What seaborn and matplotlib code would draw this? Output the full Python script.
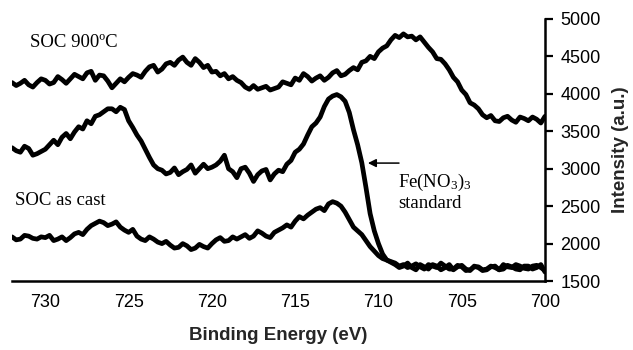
import numpy as np
import pandas as pd
import seaborn as sns
import matplotlib
matplotlib.use("Agg")
import matplotlib.pyplot as plt

sns.set_style("white")
plt.rcParams["font.family"] = ["Liberation Sans", "DejaVu Sans"]
plt.rcParams["mathtext.fontset"] = "custom"
plt.rcParams["mathtext.rm"] = "Liberation Serif"
plt.rcParams["mathtext.it"] = "Liberation Serif:italic"

# binding energy grid (eV), 732 -> 700 in 0.25 eV steps
energy = np.linspace(732, 700, 129)

soc_900 = [4150, 4110, 4140, 4180, 4120, 4090, 4150, 4200, 4180, 4130,
           4150, 4230, 4190, 4140, 4200, 4260, 4230, 4200, 4280, 4300,
           4180, 4250, 4240, 4170, 4080, 4140, 4200, 4160, 4220, 4270,
           4250, 4220, 4300, 4360, 4380, 4290, 4330, 4400, 4420, 4380,
           4450, 4490, 4420, 4380, 4470, 4420, 4350, 4380, 4290, 4300,
           4240, 4270, 4200, 4230, 4180, 4150, 4090, 4060, 4110, 4060,
           4080, 4100, 4050, 4070, 4090, 4160, 4140, 4120, 4210, 4180,
           4270, 4230, 4170, 4210, 4240, 4180, 4220, 4280, 4310, 4240,
           4260, 4310, 4350, 4320, 4420, 4440, 4500, 4470, 4560, 4610,
           4640, 4720, 4780, 4750, 4800, 4760, 4770, 4720, 4760, 4690,
           4620, 4560, 4470, 4460, 4400, 4320, 4220, 4160, 4050, 3990,
           3880, 3850, 3800, 3720, 3680, 3710, 3640, 3630, 3680, 3700,
           3650, 3620, 3690, 3670, 3640, 3690, 3660, 3610, 3700]

fe_nitrate = [3280, 3240, 3220, 3300, 3270, 3180, 3200, 3230, 3260, 3320,
              3380, 3320, 3420, 3470, 3400, 3490, 3560, 3530, 3640, 3600,
              3700, 3720, 3760, 3800, 3800, 3760, 3820, 3790, 3640, 3550,
              3450, 3370, 3260, 3150, 3050, 3000, 2980, 2930, 2950, 3010,
              2920, 2960, 2990, 3050, 2940, 3000, 3060, 3000, 3020, 3050,
              3100, 3180, 3000, 2960, 2880, 3000, 3020, 2940, 2830, 2920,
              2970, 2990, 2850, 2930, 2980, 2960, 3060, 3110, 3220, 3260,
              3330, 3450, 3560, 3610, 3690, 3830, 3930, 3970, 3990, 3960,
              3900, 3750, 3520, 3320, 3080, 2750, 2400, 2170, 2000, 1860,
              1780, 1750, 1720, 1680, 1700, 1740, 1680, 1650, 1720, 1690,
              1660, 1720, 1700, 1650, 1680, 1720, 1650, 1690, 1710, 1660,
              1640, 1700, 1680, 1640, 1650, 1690, 1700, 1650, 1660, 1710,
              1690, 1660, 1650, 1700, 1700, 1660, 1680, 1720, 1620]

soc_cast = [2090, 2050, 2060, 2110, 2100, 2070, 2060, 2090, 2080, 2110,
            2040, 2060, 2090, 2040, 2080, 2130, 2150, 2120, 2190, 2240,
            2270, 2300, 2280, 2240, 2260, 2290, 2220, 2180, 2150, 2190,
            2100, 2060, 2040, 2090, 2060, 2020, 2000, 2030, 1980, 1940,
            1950, 2000, 1970, 1920, 1940, 1990, 1960, 1940, 2000, 2050,
            2080, 2030, 2040, 2090, 2060, 2090, 2120, 2070, 2100, 2170,
            2140, 2100, 2080, 2150, 2180, 2210, 2250, 2220, 2300, 2360,
            2330, 2380, 2420, 2460, 2480, 2440, 2530, 2560, 2540, 2500,
            2420, 2320, 2220, 2170, 2120, 2040, 1960, 1900, 1840, 1800,
            1780, 1760, 1740, 1700, 1720, 1680, 1700, 1730, 1690, 1660,
            1720, 1700, 1680, 1740, 1700, 1660, 1660, 1710, 1690, 1640,
            1650, 1690, 1690, 1650, 1660, 1700, 1680, 1650, 1720, 1690,
            1680, 1720, 1700, 1670, 1660, 1700, 1710, 1680, 1640]

y_ticks = [1500, 2000, 2500, 3000, 3500, 4000, 4500, 5000]
x_ticks = [730, 725, 720, 715, 710, 705, 700]

fig = plt.figure(figsize=(6.33, 3.5), dpi=100)
ax = fig.add_axes([0.019, 0.197, 0.842, 0.749])

for series in (soc_900, fe_nitrate, soc_cast):
    df = pd.DataFrame({"energy": energy, "intensity": series})
    sns.lineplot(data=df, x="energy", y="intensity", color="black",
                 linewidth=3.4, sort=False, estimator=None, ax=ax)

ax.set_xlim(732, 700)
ax.set_ylim(1500, 5000)
ax.set_xticks(x_ticks)
ax.set_yticks(y_ticks)
ax.yaxis.tick_right()
ax.yaxis.set_label_position("right")

for side in ("left", "top"):
    ax.spines[side].set_visible(False)
for side in ("right", "bottom"):
    ax.spines[side].set_linewidth(1.8)
    ax.spines[side].set_color("black")

ax.tick_params(axis="both", direction="out", length=6, width=1.6,
               labelsize=13, colors="black")
ax.tick_params(axis="x", pad=3)
ax.tick_params(axis="y", pad=5)

ax.set_xlabel("Binding Energy (eV)", fontsize=13.5, fontweight="bold", labelpad=12)
ax.set_ylabel("Intensity (a.u.)", fontsize=13.5, fontweight="bold", labelpad=8)

serif = dict(family="Liberation Serif", fontsize=13.5, color="black")
ax.text(730.9, 4680, "SOC 900\u00baC", ha="left", va="center", **serif)
ax.text(731.8, 2580, "SOC as cast", ha="left", va="center", **serif)
ax.text(708.8, 2690, "Fe(NO$_3$)$_3$\nstandard", ha="left", va="center",
        linespacing=1.1, **serif)

ax.annotate("", xy=(710.8, 3075), xytext=(708.6, 3075),
            arrowprops=dict(arrowstyle="-|>", color="black", lw=1.1,
                            mutation_scale=12))

fig.savefig("out.png", dpi=100)
